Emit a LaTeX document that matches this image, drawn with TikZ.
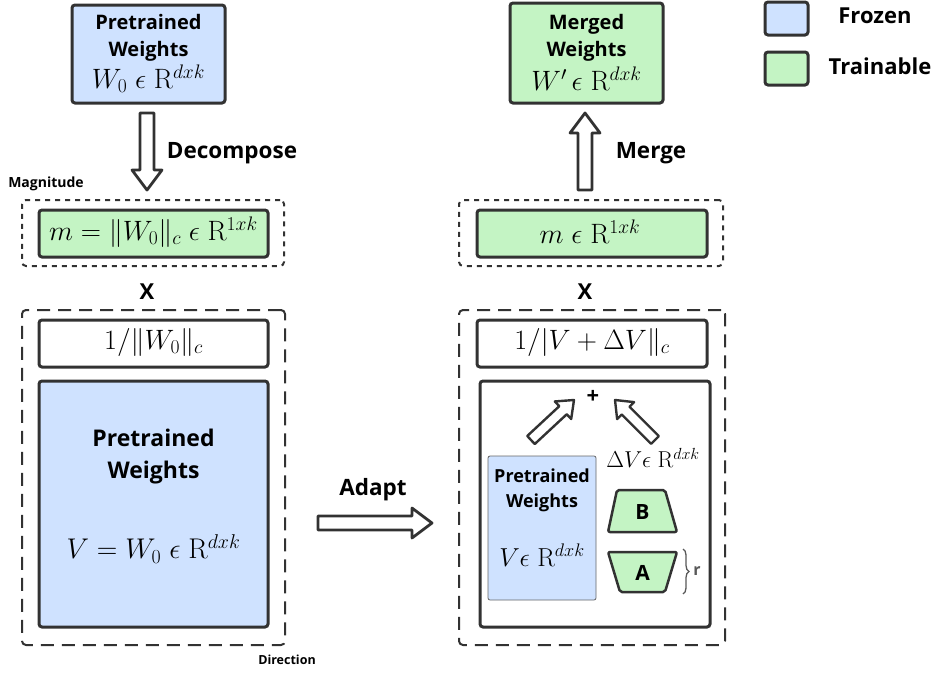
\RequirePackage{fix-cm}
\documentclass[tikz,border=0pt]{standalone}
\usepackage[no-math]{fontspec}
\setmainfont{Open Sans}
\usetikzlibrary{calc,decorations.pathreplacing}
\definecolor{dk}{RGB}{50,50,50}
\definecolor{frz}{RGB}{207,226,255}
\definecolor{trn}{RGB}{196,244,196}
\newcommand\blockarrow[6]{% style, from, to, shaft half, head half, head length
  \path let \p1=(#2), \p2=(#3), \n1={atan2(\y2-\y1,\x2-\x1)}, \n2={veclen(\x2-\x1,\y2-\y1)} in \pgfextra{\xdef\baang{\n1}\xdef\balen{\n2}};
  \draw[#1, shift={(#2)}, rotate=\baang] (0pt,-#4) -- ({\balen-#6},-#4) -- ({\balen-#6},-#5) -- (\balen,0pt) -- ({\balen-#6},#5) -- ({\balen-#6},#4) -- (0pt,#4) -- cycle;
}
\tikzset{
  box/.style={draw=dk, line width=3pt, rounded corners=3pt, rectangle, inner sep=0pt},
  thinbox/.style={draw=gray!80!black, line width=0.8pt, rounded corners=2pt, rectangle, inner sep=0pt, fill=frz},
  dotbox/.style={draw=dk, line width=2pt, dash pattern=on 5pt off 5pt, rounded corners=4pt, rectangle, inner sep=0pt},
  dashbox/.style={draw=dk, line width=2pt, dash pattern=on 13pt off 8pt, rounded corners=4pt, rectangle, inner sep=0pt},
  barrow/.style={draw=dk, fill=white, line width=2.8pt, line join=round},
  sarrow/.style={draw=dk, fill=white, line width=2.4pt, line join=round},
  lbl/.style={font=\bfseries\fontsize{20}{27}\selectfont, align=center, inner sep=0pt},
  biglbl/.style={font=\bfseries\fontsize{23}{32}\selectfont, align=center, inner sep=0pt},
  smlbl/.style={font=\bfseries\fontsize{18}{25}\selectfont, align=center, inner sep=0pt},
  actlbl/.style={font=\bfseries\fontsize{22.5}{26}\selectfont, inner sep=0pt},
  leglbl/.style={font=\bfseries\fontsize{22}{26}\selectfont, inner sep=0pt},
  tiny/.style={font=\bfseries\fontsize{13}{15}\selectfont, inner sep=0pt},
  mth/.style={font=\fontsize{28}{32}\selectfont, inner sep=0pt},
  trapz/.style={draw=dk, fill=trn, line width=2.5pt, line join=round, rounded corners=2pt},
  trlbl/.style={font=\bfseries\fontsize{21}{24}\selectfont, inner sep=0pt},
}
\begin{document}
\begin{tikzpicture}[x=1pt,y=-1pt]
\useasboundingbox (0,0) rectangle (939,672);
% ---------- left column ----------
\node[box, fill=frz, minimum width=153pt, minimum height=98pt] (pw) at (148.5,54) {};
\node[lbl] (pwt) at (148.5,38) {Pretrained\\Weights};
\node[mth] (pwm) at (148.5,79) {$W_0\;\epsilon\;\mathrm{R}^{dxk}$};

\coordinate (d1) at (147,113);
\coordinate (d2) at (147,190);
\blockarrow{barrow}{d1}{d2}{7pt}{15pt}{20pt}
\node[actlbl] (dec) at (232,153) {Decompose};
\node[tiny, font=\bfseries\fontsize{14}{16}\selectfont] (magl) at (46,184) {Magnitude};

\node[dotbox, minimum width=262pt, minimum height=66pt] (mago) at (153,233) {};
\node[box, fill=trn, minimum width=229pt, minimum height=47pt] (mag) at (153.5,233.5) {};
\node[mth] (magm) at (153.5,232) {$m = \|W_0\|_c\;\epsilon\;\mathrm{R}^{1xk}$};
\node[actlbl, font=\bfseries\fontsize{22}{24}\selectfont] (xl) at (147,292) {X};

\node[dashbox, minimum width=263pt, minimum height=335pt] (diro) at (153.5,477.5) {};
\node[box, fill=white, minimum width=229pt, minimum height=47pt] (norml) at (153.5,343.5) {};
\node[mth] (normlm) at (153.5,342) {$1/\|W_0\|_c$};
\node[box, fill=frz, minimum width=229pt, minimum height=246pt] (vbox) at (153.5,504) {};
\node[biglbl] (vt) at (153.5,457) {Pretrained\\Weights};
\node[mth, font=\fontsize{28.5}{32}\selectfont] (vm) at (153.5,549) {$V = W_0\;\epsilon\;\mathrm{R}^{dxk}$};
\node[tiny, font=\bfseries\fontsize{12.5}{15}\selectfont] (dirl) at (287,660) {Direction};

% ---------- adapt ----------
\coordinate (a1) at (318,523);
\coordinate (a2) at (432,523);
\blockarrow{barrow}{a1}{a2}{7pt}{15pt}{20pt}
\node[actlbl] (adl) at (373,490) {Adapt};

% ---------- right column ----------
\node[box, fill=trn, minimum width=153pt, minimum height=100pt] (mw) at (586.5,53) {};
\node[lbl] (mwt) at (586.5,38) {Merged\\Weights};
\node[mth] (mwm) at (586.5,79) {$W'\,\epsilon\;\mathrm{R}^{dxk}$};

\coordinate (m1) at (585,190);
\coordinate (m2) at (585,113);
\blockarrow{barrow}{m1}{m2}{7pt}{15pt}{20pt}
\node[actlbl] (mgl) at (651,153) {Merge};

\node[dotbox, minimum width=264pt, minimum height=66pt] (rmago) at (591,233) {};
\node[box, fill=trn, minimum width=230pt, minimum height=47pt] (rmag) at (592,233.5) {};
\node[mth] (rmagm) at (590,232) {$m\;\epsilon\;\mathrm{R}^{1xk}$};
\node[actlbl, font=\bfseries\fontsize{22}{24}\selectfont] (xr) at (585,292) {X};

\node[dashbox, minimum width=266pt, minimum height=335pt] (rdiro) at (592,477.5) {};
\node[box, fill=white, minimum width=230pt, minimum height=47pt] (normr) at (592,343.5) {};
\node[mth] (normrm) at (592,342) {$1/|V+\Delta V\|_c$};
\node[box, fill=white, minimum width=230pt, minimum height=246pt] (inner) at (595,504) {};

\node[thinbox, minimum width=108pt, minimum height=144pt] (sv) at (542,528) {};
\node[smlbl] (svt) at (542,490) {Pretrained\\Weights};
\node[mth, font=\fontsize{26}{30}\selectfont] (svm) at (542,555) {$V\epsilon\;\mathrm{R}^{dxk}$};

\node[mth, font=\fontsize{23}{28}\selectfont] (dv) at (653,458) {$\Delta V\epsilon\;\mathrm{R}^{dxk}$};
\draw[trapz] (617,490) -- (665,490) -- (677,532) -- (608,532) -- cycle;
\node[trlbl] (B) at (642.5,512) {B};
\draw[trapz] (608,552) -- (677,552) -- (665,592) -- (620,592) -- cycle;
\node[trlbl] (A) at (642.5,573) {A};
\coordinate (br1) at (683,549);
\coordinate (br2) at (683,594);
\draw[decorate, decoration={brace, amplitude=6pt}, draw=gray!70!black, line width=1.3pt] (br1) -- (br2);
\node[font=\bfseries\fontsize{16}{18}\selectfont, text=gray!70!black, inner sep=0pt] (rl) at (697,571) {r};

\node[actlbl, font=\bfseries\fontsize{22}{24}\selectfont] (plus) at (593,397) {+};
\coordinate (p1) at (531,440);
\coordinate (p2) at (574,400);
\blockarrow{sarrow}{p1}{p2}{5.5pt}{12pt}{15pt}
\coordinate (q1) at (655,440);
\coordinate (q2) at (615,400);
\blockarrow{sarrow}{q1}{q2}{5.5pt}{12pt}{15pt}

% ---------- legend ----------
\node[box, fill=frz, minimum width=43pt, minimum height=33pt] (lf) at (786.5,18.5) {};
\node[leglbl] (lft) at (875,16) {Frozen};
\node[box, fill=trn, minimum width=43pt, minimum height=33pt] (lt) at (786.5,68.5) {};
\node[leglbl] (ltt) at (880,66) {Trainable};
\end{tikzpicture}
\end{document}
